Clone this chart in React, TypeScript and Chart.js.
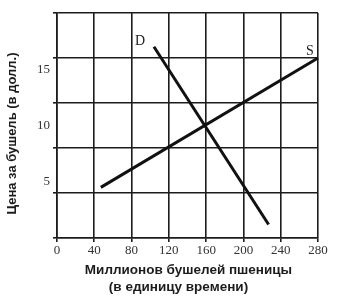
import React, { useEffect, useRef } from "react";
import { Chart, registerables } from "chart.js";
Chart.register(...registerables);

const xTickValues = [0, 40, 80, 120, 160, 200, 240, 280];
const yGridValues = [0, 4, 8, 12, 16, 20];
const yLabelValues = [5, 10, 15];
const demandQ = [104, 227];
const demandP = [17.0, 1.2];
const supplyQ = [47, 280];
const supplyP = [4.5, 16.0];
const demandName = "D";
const supplyName = "S";
const xTitle = ["Миллионов бушелей пшеницы", "(в единицу времени)"];
const yTitle = "Цена за бушель (в долл.)";

const INK = "#1c1c1c";
const SERIF = "'Liberation Serif', 'DejaVu Serif', serif";
const SANS = "'Liberation Sans', Arial, sans-serif";

const annotations = {
  id: "annotations",
  afterDatasetsDraw(chart: any) {
    const ctx = chart.ctx;
    ctx.save();
    ctx.font = `14px ${SERIF}`;
    ctx.fillStyle = "#222";
    ctx.textAlign = "center";
    ctx.textBaseline = "middle";
    const d = chart.getDatasetMeta(0).data[0];
    ctx.fillText(demandName, d.x - 14, d.y - 5);
    const sPts = chart.getDatasetMeta(1).data;
    const s = sPts[sPts.length - 1];
    ctx.fillText(supplyName, s.x - 8, s.y - 7);
    ctx.restore();
  },
  afterDraw(chart: any) {
    const ctx = chart.ctx;
    const area = chart.chartArea;
    ctx.save();
    ctx.fillStyle = INK;
    ctx.textBaseline = "middle";
    ctx.textAlign = "center";
    ctx.font = `bold 13.5px ${SANS}`;
    const cx = (area.left + area.right) / 2;
    ctx.fillText(xTitle[0], cx + 1, area.bottom + 32);
    ctx.fillText(xTitle[1], cx - 9, area.bottom + 49);
    ctx.font = `bold 13px ${SANS}`;
    ctx.translate(12, (area.top + area.bottom) / 2 + 8);
    ctx.rotate(-Math.PI / 2);
    ctx.fillText(yTitle, 0, 0);
    ctx.restore();
  },
};

export default function App() {
  const ref = useRef<HTMLCanvasElement | null>(null);
  useEffect(() => {
    if (!ref.current) return;
    const yAll = Array.from(new Set([...yGridValues, ...yLabelValues])).sort((a, b) => a - b);
    const chart = new Chart(ref.current, {
      type: "scatter",
      data: {
        datasets: [
          {
            label: demandName,
            data: demandQ.map((q, i) => ({ x: q, y: demandP[i] })),
            showLine: true,
            borderColor: "#111",
            borderWidth: 3,
            pointRadius: 0,
            clip: false as any,
          },
          {
            label: supplyName,
            data: supplyQ.map((q, i) => ({ x: q, y: supplyP[i] })),
            showLine: true,
            borderColor: "#111",
            borderWidth: 3,
            pointRadius: 0,
            clip: false as any,
          },
        ],
      },
      options: {
        responsive: false,
        animation: false,
        layout: { padding: { top: 13, right: 29, left: 0, bottom: 0 } },
        plugins: { legend: { display: false }, tooltip: { enabled: false } },
        scales: {
          x: {
            type: "linear",
            min: 0,
            max: 280,
            afterBuildTicks: (scale: any) => {
              scale.ticks = xTickValues.map((v) => ({ value: v }));
            },
            afterFit: (scale: any) => {
              scale.height = 62;
            },
            grid: { color: INK, lineWidth: 1.6, tickLength: 4, tickColor: INK },
            border: { color: INK, width: 1.6 },
            ticks: {
              autoSkip: false,
              maxRotation: 0,
              padding: 1,
              color: "#333",
              font: { family: SERIF, size: 13 },
              callback: (v: any) => String(v),
            },
          },
          y: {
            type: "linear",
            min: 0,
            max: 20,
            afterBuildTicks: (scale: any) => {
              scale.ticks = yAll.map((v) => ({ value: v }));
            },
            afterFit: (scale: any) => {
              scale.width = 57;
            },
            grid: {
              lineWidth: 1.6,
              tickLength: 4,
              color: (c: any) => (yLabelValues.includes(c.tick?.value) ? "rgba(0,0,0,0)" : INK),
              tickColor: (c: any) => (yLabelValues.includes(c.tick?.value) ? "rgba(0,0,0,0)" : INK),
            },
            border: { color: INK, width: 1.6 },
            ticks: {
              autoSkip: false,
              padding: 3,
              color: "#333",
              font: { family: SERIF, size: 13 },
              callback: (v: any) => (yLabelValues.includes(Number(v)) ? String(v) : ""),
            },
          },
        },
      },
      plugins: [annotations],
    });
    return () => chart.destroy();
  }, []);
  return (
    <div style={{ position: "absolute", left: 0, top: 0, width: 347, height: 300, background: "#fff" }}>
      <canvas ref={ref} width={347} height={300} style={{ width: 347, height: 300, display: "block" }} />
    </div>
  );
}
